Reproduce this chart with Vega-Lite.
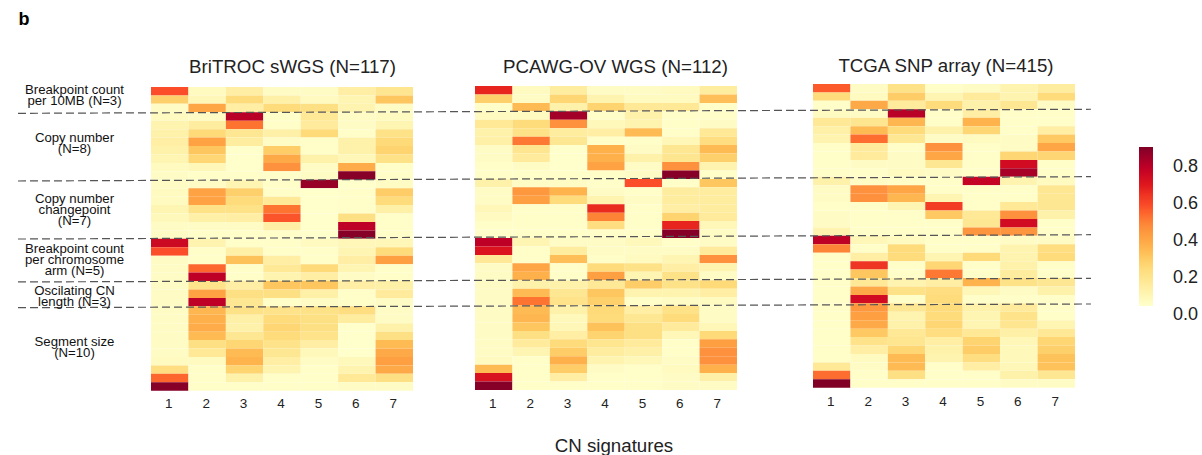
{"$schema":"https://vega.github.io/schema/vega-lite/v6.json","width":1202,"height":455,"autosize":{"type":"none"},"padding":0,"background":"white","config":{"view":{"stroke":null},"font":"Liberation Sans","legend":{"labelFontSize":18}},
"datasets":{
"lines":[{"y0":3.12,"y1":2.64},{"y0":11.14,"y1":10.63},{"y0":18.02,"y1":17.51},{"y0":23.11,"y1":22.68},{"y0":26.16,"y1":25.72}],
"groups":[{"label":"Breakpoint count\nper 10MB (N=3)","mid":0.36},{"label":"Copy number\n(N=8)","mid":6.03},{"label":"Copy number\nchangepoint\n(N=7)","mid":13.26},{"label":"Breakpoint count\nper chromosome\narm (N=5)","mid":19.2},{"label":"Oscilating CN\nlength (N=3)","mid":24.15},{"label":"Segment size\n(N=10)","mid":30.2}],
"legendTicks":[{"tick":0},{"tick":0.2},{"tick":0.4},{"tick":0.6},{"tick":0.8}],
"BriTROC":[
{"f":1,"s":1,"v":0.54},{"f":1,"s":2,"v":0.03},{"f":1,"s":3,"v":0.10},{"f":1,"s":4,"v":0.02},{"f":1,"s":5,"v":0.02},{"f":1,"s":6,"v":0.10},{"f":1,"s":7,"v":0.15},
{"f":2,"s":1,"v":0.24},{"f":2,"s":2,"v":0.05},{"f":2,"s":3,"v":0.20},{"f":2,"s":4,"v":0.09},{"f":2,"s":5,"v":0.03},{"f":2,"s":6,"v":0.06},{"f":2,"s":7,"v":0.27},
{"f":3,"s":1,"v":0.02},{"f":3,"s":2,"v":0.36},{"f":3,"s":3,"v":0.10},{"f":3,"s":4,"v":0.20},{"f":3,"s":5,"v":0.18},{"f":3,"s":6,"v":0.07},{"f":3,"s":7,"v":0.02},
{"f":4,"s":1,"v":0.03},{"f":4,"s":2,"v":0.02},{"f":4,"s":3,"v":0.76},{"f":4,"s":4,"v":0.01},{"f":4,"s":5,"v":0.13},{"f":4,"s":6,"v":0.02},{"f":4,"s":7,"v":0.03},
{"f":5,"s":1,"v":0.07},{"f":5,"s":2,"v":0.11},{"f":5,"s":3,"v":0.48},{"f":5,"s":4,"v":0.01},{"f":5,"s":5,"v":0.12},{"f":5,"s":6,"v":0.02},{"f":5,"s":7,"v":0.06},
{"f":6,"s":1,"v":0.08},{"f":6,"s":2,"v":0.21},{"f":6,"s":3,"v":0.14},{"f":6,"s":4,"v":0.09},{"f":6,"s":5,"v":0.21},{"f":6,"s":6,"v":0.01},{"f":6,"s":7,"v":0.17},
{"f":7,"s":1,"v":0.10},{"f":7,"s":2,"v":0.37},{"f":7,"s":3,"v":0.11},{"f":7,"s":4,"v":0.02},{"f":7,"s":5,"v":0.01},{"f":7,"s":6,"v":0.08},{"f":7,"s":7,"v":0.21},
{"f":8,"s":1,"v":0.08},{"f":8,"s":2,"v":0.27},{"f":8,"s":3,"v":0.00},{"f":8,"s":4,"v":0.25},{"f":8,"s":5,"v":0.01},{"f":8,"s":6,"v":0.08},{"f":8,"s":7,"v":0.23},
{"f":9,"s":1,"v":0.06},{"f":9,"s":2,"v":0.22},{"f":9,"s":3,"v":0.00},{"f":9,"s":4,"v":0.35},{"f":9,"s":5,"v":0.08},{"f":9,"s":6,"v":0.05},{"f":9,"s":7,"v":0.17},
{"f":10,"s":1,"v":0.03},{"f":10,"s":2,"v":0.05},{"f":10,"s":3,"v":0.00},{"f":10,"s":4,"v":0.42},{"f":10,"s":5,"v":0.02},{"f":10,"s":6,"v":0.34},{"f":10,"s":7,"v":0.01},
{"f":11,"s":1,"v":0.02},{"f":11,"s":2,"v":0.01},{"f":11,"s":3,"v":0.01},{"f":11,"s":4,"v":0.01},{"f":11,"s":5,"v":0.02},{"f":11,"s":6,"v":0.85},{"f":11,"s":7,"v":0.01},
{"f":12,"s":1,"v":0.02},{"f":12,"s":2,"v":0.02},{"f":12,"s":3,"v":0.06},{"f":12,"s":4,"v":0.01},{"f":12,"s":5,"v":0.82},{"f":12,"s":6,"v":0.00},{"f":12,"s":7,"v":0.02},
{"f":13,"s":1,"v":0.03},{"f":13,"s":2,"v":0.37},{"f":13,"s":3,"v":0.24},{"f":13,"s":4,"v":0.01},{"f":13,"s":5,"v":0.00},{"f":13,"s":6,"v":0.01},{"f":13,"s":7,"v":0.25},
{"f":14,"s":1,"v":0.03},{"f":14,"s":2,"v":0.37},{"f":14,"s":3,"v":0.20},{"f":14,"s":4,"v":0.13},{"f":14,"s":5,"v":0.00},{"f":14,"s":6,"v":0.01},{"f":14,"s":7,"v":0.20},
{"f":15,"s":1,"v":0.06},{"f":15,"s":2,"v":0.17},{"f":15,"s":3,"v":0.17},{"f":15,"s":4,"v":0.48},{"f":15,"s":5,"v":0.00},{"f":15,"s":6,"v":0.01},{"f":15,"s":7,"v":0.09},
{"f":16,"s":1,"v":0.04},{"f":16,"s":2,"v":0.09},{"f":16,"s":3,"v":0.10},{"f":16,"s":4,"v":0.53},{"f":16,"s":5,"v":0.00},{"f":16,"s":6,"v":0.18},{"f":16,"s":7,"v":0.01},
{"f":17,"s":1,"v":0.02},{"f":17,"s":2,"v":0.02},{"f":17,"s":3,"v":0.02},{"f":17,"s":4,"v":0.10},{"f":17,"s":5,"v":0.00},{"f":17,"s":6,"v":0.75},{"f":17,"s":7,"v":0.01},
{"f":18,"s":1,"v":0.02},{"f":18,"s":2,"v":0.01},{"f":18,"s":3,"v":0.01},{"f":18,"s":4,"v":0.01},{"f":18,"s":5,"v":0.00},{"f":18,"s":6,"v":0.85},{"f":18,"s":7,"v":0.01},
{"f":19,"s":1,"v":0.71},{"f":19,"s":2,"v":0.07},{"f":19,"s":3,"v":0.01},{"f":19,"s":4,"v":0.01},{"f":19,"s":5,"v":0.03},{"f":19,"s":6,"v":0.05},{"f":19,"s":7,"v":0.05},
{"f":20,"s":1,"v":0.54},{"f":20,"s":2,"v":0.01},{"f":20,"s":3,"v":0.09},{"f":20,"s":4,"v":0.01},{"f":20,"s":5,"v":0.01},{"f":20,"s":6,"v":0.06},{"f":20,"s":7,"v":0.20},
{"f":21,"s":1,"v":0.02},{"f":21,"s":2,"v":0.01},{"f":21,"s":3,"v":0.28},{"f":21,"s":4,"v":0.10},{"f":21,"s":5,"v":0.01},{"f":21,"s":6,"v":0.10},{"f":21,"s":7,"v":0.38},
{"f":22,"s":1,"v":0.02},{"f":22,"s":2,"v":0.50},{"f":22,"s":3,"v":0.01},{"f":22,"s":4,"v":0.13},{"f":22,"s":5,"v":0.21},{"f":22,"s":6,"v":0.06},{"f":22,"s":7,"v":0.01},
{"f":23,"s":1,"v":0.02},{"f":23,"s":2,"v":0.75},{"f":23,"s":3,"v":0.01},{"f":23,"s":4,"v":0.07},{"f":23,"s":5,"v":0.10},{"f":23,"s":6,"v":0.02},{"f":23,"s":7,"v":0.01},
{"f":24,"s":1,"v":0.02},{"f":24,"s":2,"v":0.16},{"f":24,"s":3,"v":0.10},{"f":24,"s":4,"v":0.27},{"f":24,"s":5,"v":0.27},{"f":24,"s":6,"v":0.10},{"f":24,"s":7,"v":0.09},
{"f":25,"s":1,"v":0.02},{"f":25,"s":2,"v":0.37},{"f":25,"s":3,"v":0.18},{"f":25,"s":4,"v":0.18},{"f":25,"s":5,"v":0.09},{"f":25,"s":6,"v":0.01},{"f":25,"s":7,"v":0.12},
{"f":26,"s":1,"v":0.02},{"f":26,"s":2,"v":0.75},{"f":26,"s":3,"v":0.14},{"f":26,"s":4,"v":0.01},{"f":26,"s":5,"v":0.02},{"f":26,"s":6,"v":0.01},{"f":26,"s":7,"v":0.02},
{"f":27,"s":1,"v":0.02},{"f":27,"s":2,"v":0.31},{"f":27,"s":3,"v":0.17},{"f":27,"s":4,"v":0.16},{"f":27,"s":5,"v":0.17},{"f":27,"s":6,"v":0.19},{"f":27,"s":7,"v":0.02},
{"f":28,"s":1,"v":0.02},{"f":28,"s":2,"v":0.33},{"f":28,"s":3,"v":0.09},{"f":28,"s":4,"v":0.20},{"f":28,"s":5,"v":0.18},{"f":28,"s":6,"v":0.11},{"f":28,"s":7,"v":0.02},
{"f":29,"s":1,"v":0.02},{"f":29,"s":2,"v":0.34},{"f":29,"s":3,"v":0.08},{"f":29,"s":4,"v":0.22},{"f":29,"s":5,"v":0.18},{"f":29,"s":6,"v":0.00},{"f":29,"s":7,"v":0.08},
{"f":30,"s":1,"v":0.02},{"f":30,"s":2,"v":0.30},{"f":30,"s":3,"v":0.14},{"f":30,"s":4,"v":0.20},{"f":30,"s":5,"v":0.16},{"f":30,"s":6,"v":0.00},{"f":30,"s":7,"v":0.18},
{"f":31,"s":1,"v":0.02},{"f":31,"s":2,"v":0.18},{"f":31,"s":3,"v":0.22},{"f":31,"s":4,"v":0.16},{"f":31,"s":5,"v":0.10},{"f":31,"s":6,"v":0.00},{"f":31,"s":7,"v":0.30},
{"f":32,"s":1,"v":0.02},{"f":32,"s":2,"v":0.13},{"f":32,"s":3,"v":0.30},{"f":32,"s":4,"v":0.14},{"f":32,"s":5,"v":0.04},{"f":32,"s":6,"v":0.00},{"f":32,"s":7,"v":0.35},
{"f":33,"s":1,"v":0.03},{"f":33,"s":2,"v":0.03},{"f":33,"s":3,"v":0.32},{"f":33,"s":4,"v":0.10},{"f":33,"s":5,"v":0.02},{"f":33,"s":6,"v":0.04},{"f":33,"s":7,"v":0.38},
{"f":34,"s":1,"v":0.19},{"f":34,"s":2,"v":0.01},{"f":34,"s":3,"v":0.23},{"f":34,"s":4,"v":0.07},{"f":34,"s":5,"v":0.01},{"f":34,"s":6,"v":0.07},{"f":34,"s":7,"v":0.35},
{"f":35,"s":1,"v":0.50},{"f":35,"s":2,"v":0.01},{"f":35,"s":3,"v":0.08},{"f":35,"s":4,"v":0.01},{"f":35,"s":5,"v":0.01},{"f":35,"s":6,"v":0.13},{"f":35,"s":7,"v":0.18},
{"f":36,"s":1,"v":0.85},{"f":36,"s":2,"v":0.01},{"f":36,"s":3,"v":0.01},{"f":36,"s":4,"v":0.01},{"f":36,"s":5,"v":0.01},{"f":36,"s":6,"v":0.02},{"f":36,"s":7,"v":0.02}],
"PCAWG":[
{"f":1,"s":1,"v":0.63},{"f":1,"s":2,"v":0.03},{"f":1,"s":3,"v":0.11},{"f":1,"s":4,"v":0.02},{"f":1,"s":5,"v":0.02},{"f":1,"s":6,"v":0.03},{"f":1,"s":7,"v":0.11},
{"f":2,"s":1,"v":0.24},{"f":2,"s":2,"v":0.02},{"f":2,"s":3,"v":0.22},{"f":2,"s":4,"v":0.07},{"f":2,"s":5,"v":0.03},{"f":2,"s":6,"v":0.03},{"f":2,"s":7,"v":0.29},
{"f":3,"s":1,"v":0.01},{"f":3,"s":2,"v":0.30},{"f":3,"s":3,"v":0.08},{"f":3,"s":4,"v":0.23},{"f":3,"s":5,"v":0.13},{"f":3,"s":6,"v":0.13},{"f":3,"s":7,"v":0.01},
{"f":4,"s":1,"v":0.03},{"f":4,"s":2,"v":0.03},{"f":4,"s":3,"v":0.80},{"f":4,"s":4,"v":0.01},{"f":4,"s":5,"v":0.08},{"f":4,"s":6,"v":0.01},{"f":4,"s":7,"v":0.01},
{"f":5,"s":1,"v":0.13},{"f":5,"s":2,"v":0.20},{"f":5,"s":3,"v":0.42},{"f":5,"s":4,"v":0.04},{"f":5,"s":5,"v":0.07},{"f":5,"s":6,"v":0.01},{"f":5,"s":7,"v":0.02},
{"f":6,"s":1,"v":0.08},{"f":6,"s":2,"v":0.17},{"f":6,"s":3,"v":0.11},{"f":6,"s":4,"v":0.10},{"f":6,"s":5,"v":0.30},{"f":6,"s":6,"v":0.01},{"f":6,"s":7,"v":0.13},
{"f":7,"s":1,"v":0.09},{"f":7,"s":2,"v":0.47},{"f":7,"s":3,"v":0.14},{"f":7,"s":4,"v":0.01},{"f":7,"s":5,"v":0.01},{"f":7,"s":6,"v":0.05},{"f":7,"s":7,"v":0.19},
{"f":8,"s":1,"v":0.02},{"f":8,"s":2,"v":0.15},{"f":8,"s":3,"v":0.00},{"f":8,"s":4,"v":0.33},{"f":8,"s":5,"v":0.02},{"f":8,"s":6,"v":0.14},{"f":8,"s":7,"v":0.30},
{"f":9,"s":1,"v":0.02},{"f":9,"s":2,"v":0.12},{"f":9,"s":3,"v":0.00},{"f":9,"s":4,"v":0.33},{"f":9,"s":5,"v":0.08},{"f":9,"s":6,"v":0.15},{"f":9,"s":7,"v":0.24},
{"f":10,"s":1,"v":0.01},{"f":10,"s":2,"v":0.02},{"f":10,"s":3,"v":0.00},{"f":10,"s":4,"v":0.37},{"f":10,"s":5,"v":0.02},{"f":10,"s":6,"v":0.42},{"f":10,"s":7,"v":0.07},
{"f":11,"s":1,"v":0.01},{"f":11,"s":2,"v":0.01},{"f":11,"s":3,"v":0.01},{"f":11,"s":4,"v":0.01},{"f":11,"s":5,"v":0.02},{"f":11,"s":6,"v":0.85},{"f":11,"s":7,"v":0.01},
{"f":12,"s":1,"v":0.08},{"f":12,"s":2,"v":0.02},{"f":12,"s":3,"v":0.02},{"f":12,"s":4,"v":0.01},{"f":12,"s":5,"v":0.54},{"f":12,"s":6,"v":0.01},{"f":12,"s":7,"v":0.27},
{"f":13,"s":1,"v":0.02},{"f":13,"s":2,"v":0.40},{"f":13,"s":3,"v":0.32},{"f":13,"s":4,"v":0.02},{"f":13,"s":5,"v":0.01},{"f":13,"s":6,"v":0.11},{"f":13,"s":7,"v":0.11},
{"f":14,"s":1,"v":0.02},{"f":14,"s":2,"v":0.38},{"f":14,"s":3,"v":0.20},{"f":14,"s":4,"v":0.07},{"f":14,"s":5,"v":0.02},{"f":14,"s":6,"v":0.11},{"f":14,"s":7,"v":0.11},
{"f":15,"s":1,"v":0.05},{"f":15,"s":2,"v":0.01},{"f":15,"s":3,"v":0.01},{"f":15,"s":4,"v":0.62},{"f":15,"s":5,"v":0.01},{"f":15,"s":6,"v":0.10},{"f":15,"s":7,"v":0.11},
{"f":16,"s":1,"v":0.03},{"f":16,"s":2,"v":0.01},{"f":16,"s":3,"v":0.01},{"f":16,"s":4,"v":0.45},{"f":16,"s":5,"v":0.01},{"f":16,"s":6,"v":0.23},{"f":16,"s":7,"v":0.12},
{"f":17,"s":1,"v":0.01},{"f":17,"s":2,"v":0.01},{"f":17,"s":3,"v":0.01},{"f":17,"s":4,"v":0.19},{"f":17,"s":5,"v":0.01},{"f":17,"s":6,"v":0.63},{"f":17,"s":7,"v":0.05},
{"f":18,"s":1,"v":0.01},{"f":18,"s":2,"v":0.01},{"f":18,"s":3,"v":0.01},{"f":18,"s":4,"v":0.01},{"f":18,"s":5,"v":0.01},{"f":18,"s":6,"v":0.85},{"f":18,"s":7,"v":0.02},
{"f":19,"s":1,"v":0.75},{"f":19,"s":2,"v":0.06},{"f":19,"s":3,"v":0.02},{"f":19,"s":4,"v":0.02},{"f":19,"s":5,"v":0.04},{"f":19,"s":6,"v":0.01},{"f":19,"s":7,"v":0.02},
{"f":20,"s":1,"v":0.67},{"f":20,"s":2,"v":0.01},{"f":20,"s":3,"v":0.11},{"f":20,"s":4,"v":0.02},{"f":20,"s":5,"v":0.02},{"f":20,"s":6,"v":0.02},{"f":20,"s":7,"v":0.12},
{"f":21,"s":1,"v":0.13},{"f":21,"s":2,"v":0.01},{"f":21,"s":3,"v":0.29},{"f":21,"s":4,"v":0.01},{"f":21,"s":5,"v":0.03},{"f":21,"s":6,"v":0.06},{"f":21,"s":7,"v":0.42},
{"f":22,"s":1,"v":0.02},{"f":22,"s":2,"v":0.36},{"f":22,"s":3,"v":0.01},{"f":22,"s":4,"v":0.20},{"f":22,"s":5,"v":0.17},{"f":22,"s":6,"v":0.10},{"f":22,"s":7,"v":0.07},
{"f":23,"s":1,"v":0.02},{"f":23,"s":2,"v":0.33},{"f":23,"s":3,"v":0.01},{"f":23,"s":4,"v":0.38},{"f":23,"s":5,"v":0.06},{"f":23,"s":6,"v":0.17},{"f":23,"s":7,"v":0.02},
{"f":24,"s":1,"v":0.02},{"f":24,"s":2,"v":0.08},{"f":24,"s":3,"v":0.08},{"f":24,"s":4,"v":0.13},{"f":24,"s":5,"v":0.25},{"f":24,"s":6,"v":0.17},{"f":24,"s":7,"v":0.21},
{"f":25,"s":1,"v":0.02},{"f":25,"s":2,"v":0.30},{"f":25,"s":3,"v":0.14},{"f":25,"s":4,"v":0.27},{"f":25,"s":5,"v":0.07},{"f":25,"s":6,"v":0.07},{"f":25,"s":7,"v":0.10},
{"f":26,"s":1,"v":0.02},{"f":26,"s":2,"v":0.48},{"f":26,"s":3,"v":0.16},{"f":26,"s":4,"v":0.24},{"f":26,"s":5,"v":0.01},{"f":26,"s":6,"v":0.02},{"f":26,"s":7,"v":0.03},
{"f":27,"s":1,"v":0.02},{"f":27,"s":2,"v":0.30},{"f":27,"s":3,"v":0.08},{"f":27,"s":4,"v":0.21},{"f":27,"s":5,"v":0.10},{"f":27,"s":6,"v":0.17},{"f":27,"s":7,"v":0.02},
{"f":28,"s":1,"v":0.02},{"f":28,"s":2,"v":0.31},{"f":28,"s":3,"v":0.04},{"f":28,"s":4,"v":0.20},{"f":28,"s":5,"v":0.14},{"f":28,"s":6,"v":0.20},{"f":28,"s":7,"v":0.02},
{"f":29,"s":1,"v":0.02},{"f":29,"s":2,"v":0.27},{"f":29,"s":3,"v":0.05},{"f":29,"s":4,"v":0.28},{"f":29,"s":5,"v":0.18},{"f":29,"s":6,"v":0.12},{"f":29,"s":7,"v":0.05},
{"f":30,"s":1,"v":0.02},{"f":30,"s":2,"v":0.18},{"f":30,"s":3,"v":0.10},{"f":30,"s":4,"v":0.23},{"f":30,"s":5,"v":0.18},{"f":30,"s":6,"v":0.05},{"f":30,"s":7,"v":0.21},
{"f":31,"s":1,"v":0.02},{"f":31,"s":2,"v":0.12},{"f":31,"s":3,"v":0.20},{"f":31,"s":4,"v":0.15},{"f":31,"s":5,"v":0.12},{"f":31,"s":6,"v":0.01},{"f":31,"s":7,"v":0.38},
{"f":32,"s":1,"v":0.02},{"f":32,"s":2,"v":0.06},{"f":32,"s":3,"v":0.25},{"f":32,"s":4,"v":0.11},{"f":32,"s":5,"v":0.09},{"f":32,"s":6,"v":0.01},{"f":32,"s":7,"v":0.42},
{"f":33,"s":1,"v":0.03},{"f":33,"s":2,"v":0.01},{"f":33,"s":3,"v":0.33},{"f":33,"s":4,"v":0.07},{"f":33,"s":5,"v":0.05},{"f":33,"s":6,"v":0.02},{"f":33,"s":7,"v":0.42},
{"f":34,"s":1,"v":0.30},{"f":34,"s":2,"v":0.01},{"f":34,"s":3,"v":0.25},{"f":34,"s":4,"v":0.02},{"f":34,"s":5,"v":0.01},{"f":34,"s":6,"v":0.03},{"f":34,"s":7,"v":0.33},
{"f":35,"s":1,"v":0.68},{"f":35,"s":2,"v":0.01},{"f":35,"s":3,"v":0.10},{"f":35,"s":4,"v":0.01},{"f":35,"s":5,"v":0.01},{"f":35,"s":6,"v":0.02},{"f":35,"s":7,"v":0.09},
{"f":36,"s":1,"v":0.85},{"f":36,"s":2,"v":0.01},{"f":36,"s":3,"v":0.01},{"f":36,"s":4,"v":0.01},{"f":36,"s":5,"v":0.01},{"f":36,"s":6,"v":0.02},{"f":36,"s":7,"v":0.02}],
"TCGA":[
{"f":1,"s":1,"v":0.52},{"f":1,"s":2,"v":0.02},{"f":1,"s":3,"v":0.17},{"f":1,"s":4,"v":0.01},{"f":1,"s":5,"v":0.02},{"f":1,"s":6,"v":0.07},{"f":1,"s":7,"v":0.11},
{"f":2,"s":1,"v":0.20},{"f":2,"s":2,"v":0.03},{"f":2,"s":3,"v":0.25},{"f":2,"s":4,"v":0.06},{"f":2,"s":5,"v":0.12},{"f":2,"s":6,"v":0.07},{"f":2,"s":7,"v":0.20},
{"f":3,"s":1,"v":0.01},{"f":3,"s":2,"v":0.35},{"f":3,"s":3,"v":0.12},{"f":3,"s":4,"v":0.20},{"f":3,"s":5,"v":0.08},{"f":3,"s":6,"v":0.14},{"f":3,"s":7,"v":0.02},
{"f":4,"s":1,"v":0.03},{"f":4,"s":2,"v":0.02},{"f":4,"s":3,"v":0.76},{"f":4,"s":4,"v":0.01},{"f":4,"s":5,"v":0.10},{"f":4,"s":6,"v":0.01},{"f":4,"s":7,"v":0.01},
{"f":5,"s":1,"v":0.13},{"f":5,"s":2,"v":0.15},{"f":5,"s":3,"v":0.31},{"f":5,"s":4,"v":0.01},{"f":5,"s":5,"v":0.32},{"f":5,"s":6,"v":0.01},{"f":5,"s":7,"v":0.01},
{"f":6,"s":1,"v":0.09},{"f":6,"s":2,"v":0.30},{"f":6,"s":3,"v":0.20},{"f":6,"s":4,"v":0.08},{"f":6,"s":5,"v":0.22},{"f":6,"s":6,"v":0.01},{"f":6,"s":7,"v":0.10},
{"f":7,"s":1,"v":0.07},{"f":7,"s":2,"v":0.49},{"f":7,"s":3,"v":0.14},{"f":7,"s":4,"v":0.02},{"f":7,"s":5,"v":0.03},{"f":7,"s":6,"v":0.02},{"f":7,"s":7,"v":0.26},
{"f":8,"s":1,"v":0.01},{"f":8,"s":2,"v":0.12},{"f":8,"s":3,"v":0.01},{"f":8,"s":4,"v":0.42},{"f":8,"s":5,"v":0.01},{"f":8,"s":6,"v":0.02},{"f":8,"s":7,"v":0.36},
{"f":9,"s":1,"v":0.01},{"f":9,"s":2,"v":0.12},{"f":9,"s":3,"v":0.02},{"f":9,"s":4,"v":0.36},{"f":9,"s":5,"v":0.01},{"f":9,"s":6,"v":0.22},{"f":9,"s":7,"v":0.22},
{"f":10,"s":1,"v":0.01},{"f":10,"s":2,"v":0.02},{"f":10,"s":3,"v":0.02},{"f":10,"s":4,"v":0.14},{"f":10,"s":5,"v":0.01},{"f":10,"s":6,"v":0.70},{"f":10,"s":7,"v":0.01},
{"f":11,"s":1,"v":0.01},{"f":11,"s":2,"v":0.01},{"f":11,"s":3,"v":0.03},{"f":11,"s":4,"v":0.02},{"f":11,"s":5,"v":0.01},{"f":11,"s":6,"v":0.79},{"f":11,"s":7,"v":0.01},
{"f":12,"s":1,"v":0.08},{"f":12,"s":2,"v":0.02},{"f":12,"s":3,"v":0.01},{"f":12,"s":4,"v":0.01},{"f":12,"s":5,"v":0.73},{"f":12,"s":6,"v":0.07},{"f":12,"s":7,"v":0.03},
{"f":13,"s":1,"v":0.02},{"f":13,"s":2,"v":0.42},{"f":13,"s":3,"v":0.36},{"f":13,"s":4,"v":0.01},{"f":13,"s":5,"v":0.01},{"f":13,"s":6,"v":0.01},{"f":13,"s":7,"v":0.14},
{"f":14,"s":1,"v":0.02},{"f":14,"s":2,"v":0.42},{"f":14,"s":3,"v":0.31},{"f":14,"s":4,"v":0.06},{"f":14,"s":5,"v":0.01},{"f":14,"s":6,"v":0.01},{"f":14,"s":7,"v":0.14},
{"f":15,"s":1,"v":0.01},{"f":15,"s":2,"v":0.01},{"f":15,"s":3,"v":0.06},{"f":15,"s":4,"v":0.58},{"f":15,"s":5,"v":0.01},{"f":15,"s":6,"v":0.13},{"f":15,"s":7,"v":0.14},
{"f":16,"s":1,"v":0.02},{"f":16,"s":2,"v":0.01},{"f":16,"s":3,"v":0.01},{"f":16,"s":4,"v":0.26},{"f":16,"s":5,"v":0.13},{"f":16,"s":6,"v":0.42},{"f":16,"s":7,"v":0.08},
{"f":17,"s":1,"v":0.02},{"f":17,"s":2,"v":0.01},{"f":17,"s":3,"v":0.01},{"f":17,"s":4,"v":0.01},{"f":17,"s":5,"v":0.14},{"f":17,"s":6,"v":0.70},{"f":17,"s":7,"v":0.01},
{"f":18,"s":1,"v":0.07},{"f":18,"s":2,"v":0.01},{"f":18,"s":3,"v":0.01},{"f":18,"s":4,"v":0.01},{"f":18,"s":5,"v":0.41},{"f":18,"s":6,"v":0.41},{"f":18,"s":7,"v":0.01},
{"f":19,"s":1,"v":0.75},{"f":19,"s":2,"v":0.05},{"f":19,"s":3,"v":0.03},{"f":19,"s":4,"v":0.01},{"f":19,"s":5,"v":0.01},{"f":19,"s":6,"v":0.02},{"f":19,"s":7,"v":0.02},
{"f":20,"s":1,"v":0.45},{"f":20,"s":2,"v":0.01},{"f":20,"s":3,"v":0.20},{"f":20,"s":4,"v":0.01},{"f":20,"s":5,"v":0.01},{"f":20,"s":6,"v":0.07},{"f":20,"s":7,"v":0.19},
{"f":21,"s":1,"v":0.01},{"f":21,"s":2,"v":0.10},{"f":21,"s":3,"v":0.20},{"f":21,"s":4,"v":0.06},{"f":21,"s":5,"v":0.21},{"f":21,"s":6,"v":0.07},{"f":21,"s":7,"v":0.20},
{"f":22,"s":1,"v":0.01},{"f":22,"s":2,"v":0.60},{"f":22,"s":3,"v":0.01},{"f":22,"s":4,"v":0.22},{"f":22,"s":5,"v":0.01},{"f":22,"s":6,"v":0.08},{"f":22,"s":7,"v":0.01},
{"f":23,"s":1,"v":0.01},{"f":23,"s":2,"v":0.27},{"f":23,"s":3,"v":0.01},{"f":23,"s":4,"v":0.47},{"f":23,"s":5,"v":0.01},{"f":23,"s":6,"v":0.11},{"f":23,"s":7,"v":0.01},
{"f":24,"s":1,"v":0.01},{"f":24,"s":2,"v":0.13},{"f":24,"s":3,"v":0.07},{"f":24,"s":4,"v":0.10},{"f":24,"s":5,"v":0.32},{"f":24,"s":6,"v":0.17},{"f":24,"s":7,"v":0.14},
{"f":25,"s":1,"v":0.01},{"f":25,"s":2,"v":0.35},{"f":25,"s":3,"v":0.17},{"f":25,"s":4,"v":0.19},{"f":25,"s":5,"v":0.05},{"f":25,"s":6,"v":0.02},{"f":25,"s":7,"v":0.08},
{"f":26,"s":1,"v":0.01},{"f":26,"s":2,"v":0.70},{"f":26,"s":3,"v":0.01},{"f":26,"s":4,"v":0.20},{"f":26,"s":5,"v":0.01},{"f":26,"s":6,"v":0.01},{"f":26,"s":7,"v":0.01},
{"f":27,"s":1,"v":0.01},{"f":27,"s":2,"v":0.40},{"f":27,"s":3,"v":0.14},{"f":27,"s":4,"v":0.20},{"f":27,"s":5,"v":0.08},{"f":27,"s":6,"v":0.12},{"f":27,"s":7,"v":0.01},
{"f":28,"s":1,"v":0.01},{"f":28,"s":2,"v":0.38},{"f":28,"s":3,"v":0.07},{"f":28,"s":4,"v":0.20},{"f":28,"s":5,"v":0.06},{"f":28,"s":6,"v":0.16},{"f":28,"s":7,"v":0.01},
{"f":29,"s":1,"v":0.01},{"f":29,"s":2,"v":0.35},{"f":29,"s":3,"v":0.08},{"f":29,"s":4,"v":0.22},{"f":29,"s":5,"v":0.06},{"f":29,"s":6,"v":0.15},{"f":29,"s":7,"v":0.06},
{"f":30,"s":1,"v":0.01},{"f":30,"s":2,"v":0.26},{"f":30,"s":3,"v":0.13},{"f":30,"s":4,"v":0.19},{"f":30,"s":5,"v":0.13},{"f":30,"s":6,"v":0.09},{"f":30,"s":7,"v":0.13},
{"f":31,"s":1,"v":0.01},{"f":31,"s":2,"v":0.16},{"f":31,"s":3,"v":0.15},{"f":31,"s":4,"v":0.10},{"f":31,"s":5,"v":0.23},{"f":31,"s":6,"v":0.05},{"f":31,"s":7,"v":0.22},
{"f":32,"s":1,"v":0.01},{"f":32,"s":2,"v":0.10},{"f":32,"s":3,"v":0.22},{"f":32,"s":4,"v":0.08},{"f":32,"s":5,"v":0.25},{"f":32,"s":6,"v":0.04},{"f":32,"s":7,"v":0.24},
{"f":33,"s":1,"v":0.01},{"f":33,"s":2,"v":0.03},{"f":33,"s":3,"v":0.30},{"f":33,"s":4,"v":0.07},{"f":33,"s":5,"v":0.19},{"f":33,"s":6,"v":0.04},{"f":33,"s":7,"v":0.28},
{"f":34,"s":1,"v":0.13},{"f":34,"s":2,"v":0.02},{"f":34,"s":3,"v":0.30},{"f":34,"s":4,"v":0.01},{"f":34,"s":5,"v":0.10},{"f":34,"s":6,"v":0.05},{"f":34,"s":7,"v":0.28},
{"f":35,"s":1,"v":0.49},{"f":35,"s":2,"v":0.01},{"f":35,"s":3,"v":0.18},{"f":35,"s":4,"v":0.01},{"f":35,"s":5,"v":0.01},{"f":35,"s":6,"v":0.08},{"f":35,"s":7,"v":0.14},
{"f":36,"s":1,"v":0.86},{"f":36,"s":2,"v":0.01},{"f":36,"s":3,"v":0.01},{"f":36,"s":4,"v":0.01},{"f":36,"s":5,"v":0.01},{"f":36,"s":6,"v":0.02},{"f":36,"s":7,"v":0.02}]
},
"resolve":{"scale":{"x":"independent","y":"independent"},"axis":{"x":"independent","y":"independent"}},
"layer":[
{"data":{"name":"BriTROC"},"mark":{"type":"rect"},"encoding":{
"x":{"field":"s","type":"ordinal","scale":{"domain":[1,2,3,4,5,6,7],"range":[151,413],"paddingInner":0,"paddingOuter":0},"axis":{"orient":"bottom","title":"BriTROC sWGS (N=117)","titleFontSize":18.7,"titleFontWeight":"normal","titleX":292,"titleY":-328,"titleBaseline":"middle","titleColor":"#222","labelAngle":0,"labelFontSize":13.5,"labelColor":"#222","labelPadding":2,"labelOffset":-1,"ticks":false,"domain":false,"grid":false,"offset":-61}},
"y":{"field":"f","type":"ordinal","scale":{"domain":[1,2,3,4,5,6,7,8,9,10,11,12,13,14,15,16,17,18,19,20,21,22,23,24,25,26,27,28,29,30,31,32,33,34,35,36],"range":[87,390.7],"paddingInner":0,"paddingOuter":0},"axis":null},
"color":{"field":"v","type":"quantitative","scale":{"domain":[0,0.1075,0.215,0.3225,0.43,0.5375,0.645,0.7525,0.86],"range":["#ffffcc","#ffeda0","#fed976","#feb24c","#fd8d3c","#fc4e2a","#e31a1c","#bd0026","#800026"]},"legend":{"orient":"none","legendX":1139,"legendY":147,"title":null,"gradientLength":159,"gradientThickness":14,"values":[0,0.2,0.4,0.6,0.8],"labelExpr":"''"}}}},
{"data":{"name":"PCAWG"},"mark":{"type":"rect"},"encoding":{
"x":{"field":"s","type":"ordinal","scale":{"domain":[1,2,3,4,5,6,7],"range":[475,737],"paddingInner":0,"paddingOuter":0},"axis":{"orient":"bottom","title":"PCAWG-OV WGS (N=112)","titleFontSize":18.7,"titleFontWeight":"normal","titleX":615,"titleY":-328,"titleBaseline":"middle","titleColor":"#222","labelAngle":0,"labelFontSize":13.5,"labelColor":"#222","labelPadding":2,"labelOffset":-1,"ticks":false,"domain":false,"grid":false,"offset":-61}},
"y":{"field":"f","type":"ordinal","scale":{"domain":[1,2,3,4,5,6,7,8,9,10,11,12,13,14,15,16,17,18,19,20,21,22,23,24,25,26,27,28,29,30,31,32,33,34,35,36],"range":[86,390],"paddingInner":0,"paddingOuter":0},"axis":null},
"color":{"field":"v","type":"quantitative","scale":{"domain":[0,0.1075,0.215,0.3225,0.43,0.5375,0.645,0.7525,0.86],"range":["#ffffcc","#ffeda0","#fed976","#feb24c","#fd8d3c","#fc4e2a","#e31a1c","#bd0026","#800026"]}}}},
{"data":{"name":"TCGA"},"mark":{"type":"rect"},"encoding":{
"x":{"field":"s","type":"ordinal","scale":{"domain":[1,2,3,4,5,6,7],"range":[813,1075],"paddingInner":0,"paddingOuter":0},"axis":{"orient":"bottom","title":"TCGA SNP array (N=415)","titleFontSize":18.7,"titleFontWeight":"normal","titleX":945.5,"titleY":-327,"titleBaseline":"middle","titleColor":"#222","labelAngle":0,"labelFontSize":13.5,"labelColor":"#222","labelPadding":2,"labelOffset":-1,"ticks":false,"domain":false,"grid":false,"offset":-63}},
"y":{"field":"f","type":"ordinal","scale":{"domain":[1,2,3,4,5,6,7,8,9,10,11,12,13,14,15,16,17,18,19,20,21,22,23,24,25,26,27,28,29,30,31,32,33,34,35,36],"range":[84,387.7],"paddingInner":0,"paddingOuter":0},"axis":null},
"color":{"field":"v","type":"quantitative","scale":{"domain":[0,0.1075,0.215,0.3225,0.43,0.5375,0.645,0.7525,0.86],"range":["#ffffcc","#ffeda0","#fed976","#feb24c","#fd8d3c","#fc4e2a","#e31a1c","#bd0026","#800026"]}}}},
{"data":{"name":"lines"},"mark":{"type":"rule","color":"#555","strokeWidth":1.2,"strokeDash":[8,4],"clip":false},"encoding":{
"x":{"datum":0,"type":"quantitative","scale":{"domain":[0,1],"range":[18,1091]},"axis":null},
"x2":{"datum":1},
"y":{"field":"y0","type":"quantitative","scale":{"domain":[0,36],"range":[87,390.7]},"axis":null},
"y2":{"field":"y1"}}},
{"data":{"name":"groups"},"mark":{"type":"text","fontSize":13.2,"lineHeight":11,"lineBreak":"\n","align":"center","baseline":"middle","color":"#111"},"encoding":{
"text":{"field":"label"},
"x":{"datum":0,"type":"quantitative","scale":{"domain":[0,1],"range":[74.5,75]},"axis":null},
"y":{"field":"mid","type":"quantitative","scale":{"domain":[0,36],"range":[87,390.7]},"axis":null}}},
{"data":{"name":"legendTicks"},"mark":{"type":"text","fontSize":18,"align":"left","baseline":"middle","color":"#222"},"encoding":{
"text":{"field":"tick","type":"quantitative","format":".1f"},
"x":{"datum":0,"type":"quantitative","scale":{"domain":[0,1],"range":[1173,1174]},"axis":null},
"y":{"field":"tick","type":"quantitative","scale":{"domain":[0,0.8],"range":[315,166.7]},"axis":null}}},
{"data":{"values":[{"label":"b"}]},"mark":{"type":"text","fontSize":18,"fontWeight":"bold","align":"center","baseline":"middle","color":"#000"},"encoding":{
"text":{"field":"label"},
"x":{"datum":0,"type":"quantitative","scale":{"domain":[0,1],"range":[24,25]},"axis":null},
"y":{"datum":0,"type":"quantitative","scale":{"domain":[0,1],"range":[20,21]},"axis":null}}},
{"data":{"values":[{"label":"CN signatures"}]},"mark":{"type":"text","fontSize":18.7,"align":"center","baseline":"middle","color":"#222"},"encoding":{
"text":{"field":"label"},
"x":{"datum":0,"type":"quantitative","scale":{"domain":[0,1],"range":[614,615]},"axis":null},
"y":{"datum":0,"type":"quantitative","scale":{"domain":[0,1],"range":[446,447]},"axis":null}}}
]}
